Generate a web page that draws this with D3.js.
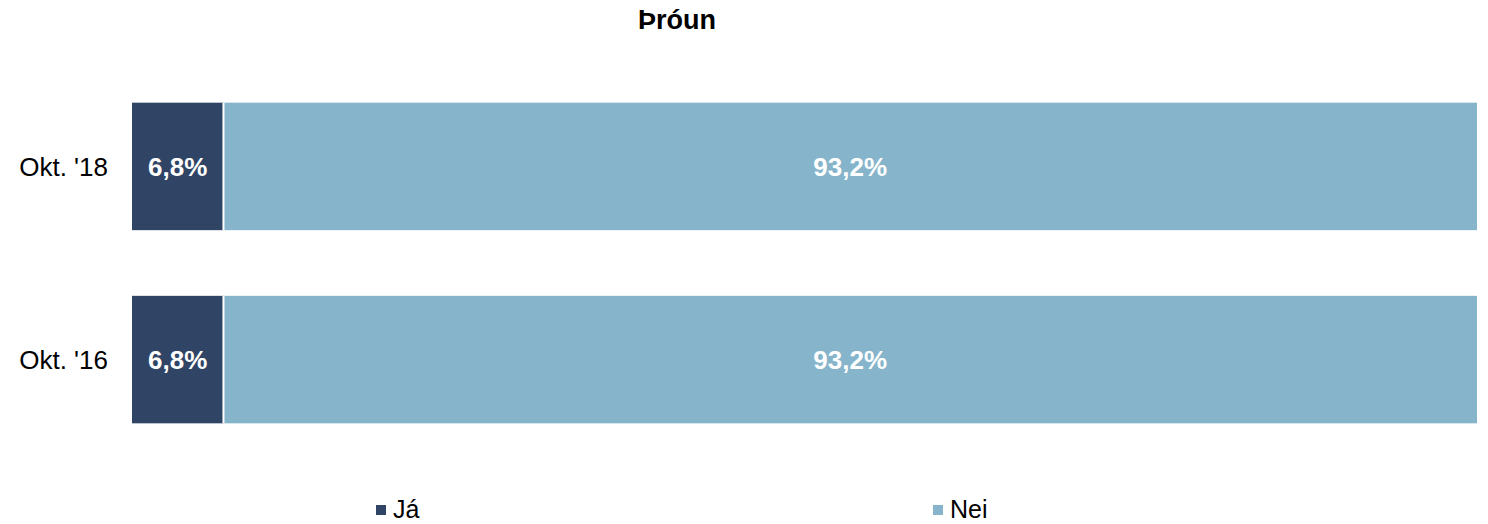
<!DOCTYPE html>
<html>
<head>
<meta charset="utf-8">
<script src="https://cdn.jsdelivr.net/npm/d3@7"></script>
<style>
  body { margin: 0; background: #fff; font-family: "Liberation Sans", Arial, sans-serif; }
</style>
</head>
<body>
<div id="chart"></div>
<script>
// data
const categories = ["Okt. '18", "Okt. '16"]
const seriesNames = ["Já", "Nei"]
const jaValues = [6.8, 6.8]
const neiValues = [93.2, 93.2]
const colors = ["#304465", "#86B5CB"]

const W = 1488, H = 524
const svg = d3.select("#chart").append("svg")
    .attr("width", W).attr("height", H)

const rows = categories.map((c, i) => ({ cat: c, vals: [jaValues[i], neiValues[i]] }))

const x = d3.scaleLinear().domain([0, 100]).range([132, 1477])
const y = d3.scaleBand().domain(categories).range([37, 489]).padding(0.34)

const fmt = v => d3.format(".1f")(v).replace(".", ",") + "%"

// title
svg.append("text")
    .attr("x", 677).attr("y", 29)
    .attr("text-anchor", "middle")
    .style("font-weight", "bold").style("font-size", "27px")
    .text("Þróun")

// bars
const g = svg.selectAll("g.row").data(rows).enter().append("g").attr("class", "row")

g.each(function (d) {
    let acc = 0
    const sel = d3.select(this)
    d.vals.forEach((v, k) => {
        const x0 = x(acc), x1 = x(acc + v)
        sel.append("rect")
            .attr("x", x0).attr("y", y(d.cat))
            .attr("width", x1 - x0).attr("height", y.bandwidth())
            .attr("fill", colors[k])
        sel.append("text")
            .attr("x", (x0 + x1) / 2).attr("y", y(d.cat) + y.bandwidth() / 2)
            .attr("dy", "0.36em")
            .attr("text-anchor", "middle")
            .style("fill", "#fff").style("font-weight", "bold").style("font-size", "26px")
            .text(fmt(v))
        acc += v
    })
    // white gap between the two segments
    sel.append("line")
        .attr("x1", x(d.vals[0])).attr("x2", x(d.vals[0]))
        .attr("y1", y(d.cat)).attr("y2", y(d.cat) + y.bandwidth())
        .attr("stroke", "#fff").attr("stroke-width", 2)
})

// category labels
svg.selectAll("text.cat").data(categories).enter().append("text")
    .attr("class", "cat")
    .attr("x", 108).attr("y", d => y(d) + y.bandwidth() / 2)
    .attr("dy", "0.36em").attr("text-anchor", "end")
    .style("font-size", "26px")
    .text(d => d)

// legend
const legX = [376, 933]
const leg = svg.selectAll("g.leg").data(seriesNames).enter().append("g")
    .attr("class", "leg")
    .attr("transform", (d, i) => "translate(" + legX[i] + ",509)")
leg.append("rect").attr("x", 0).attr("y", -4).attr("width", 10).attr("height", 10)
    .attr("fill", (d, i) => colors[i])
leg.append("text").attr("x", 17).attr("y", 0).attr("dy", "0.36em")
    .style("font-size", "25px")
    .text(d => d)
</script>
</body>
</html>
